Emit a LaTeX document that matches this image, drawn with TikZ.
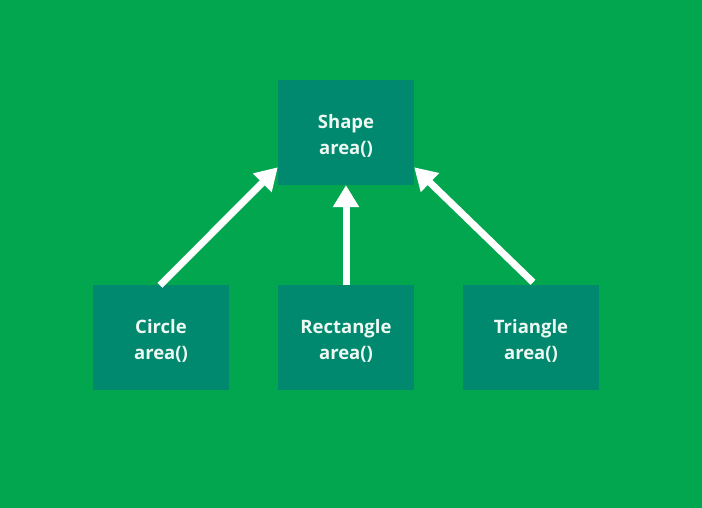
\documentclass[tikz,border=0pt]{standalone}
\usepackage{fontspec}
\setmainfont{Open Sans}
\usetikzlibrary{arrows.meta,calc}
\definecolor{bggreen}{HTML}{02A64F}
\definecolor{boxteal}{HTML}{00896E}
\definecolor{txtwhite}{HTML}{EEF8F2}
\tikzset{
  classbox/.style={fill=boxteal, draw=none, minimum width=136pt, minimum height=105pt,
    label={[classtext]center:#1\\area()}},
  classtext/.style={align=center, text=txtwhite, yshift=-3pt,
    font=\fontsize{18.5}{26}\selectfont\bfseries},
  inherit/.style={draw=white, line width=7pt, -{Triangle[length=22pt,width=25pt]}}
}
\begin{document}
\begin{tikzpicture}[x=1pt,y=1pt]
\fill[bggreen] (0,0) rectangle (702,508);
\useasboundingbox (0,0) rectangle (702,508);
\node[classbox=Shape] (shape) at (346,375.5) {};
\node[classbox=Circle] (circle) at (161,170) {};
\node[classbox=Rectangle] (rect) at (346,170) {};
\node[classbox=Triangle] (tri) at (531,170) {};
\coordinate (lt) at ($(shape.south west)!0.17!(shape.north west)$);
\coordinate (rt) at ($(shape.south east)!0.17!(shape.north east)$);
\draw[inherit] ($(circle.north)+(-1,0)$) -- (lt);
\draw[inherit] (rect.north) -- (shape.south);
\draw[inherit] ($(tri.north)+(2,3)$) -- (rt);
\end{tikzpicture}
\end{document}
